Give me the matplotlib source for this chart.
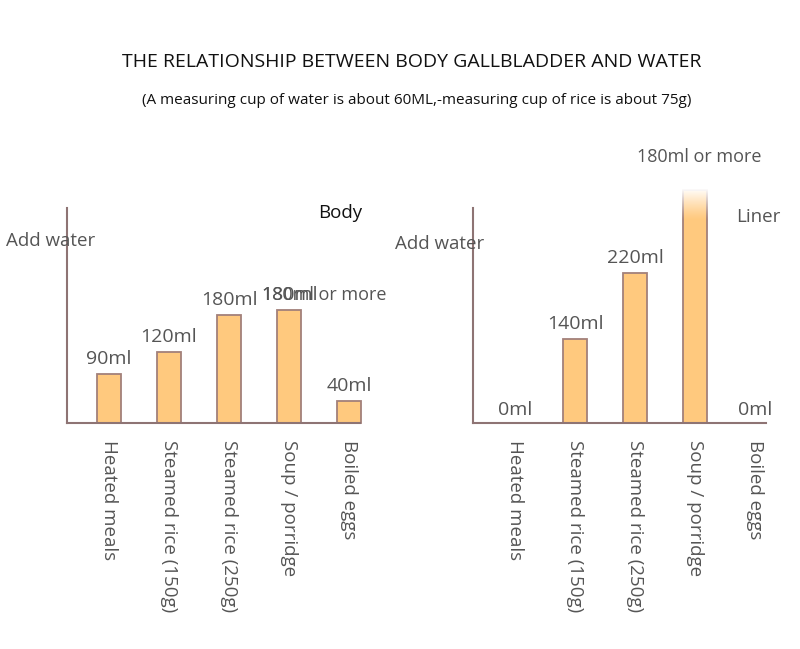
import numpy as np
import matplotlib
matplotlib.use("Agg")
import matplotlib.pyplot as plt
from matplotlib import font_manager

# ---------------- data ----------------
categories = ["Heated meals", "Steamed rice (150g)", "Steamed rice (250g)",
              "Soup / porridge", "Boiled eggs"]
body_heights = [82, 118, 180, 188, 37]          # drawn bar heights (ml scale)
body_labels = ["90ml", "120ml", "180ml", "180ml", "40ml"]
liner_heights = [0, 140, 250, 388, 0]
liner_labels = ["0ml", "140ml", "220ml", "180ml or more", "0ml"]

title = "THE RELATIONSHIP BETWEEN BODY GALLBLADDER AND WATER"
subtitle = "(A measuring cup of water is about 60ML,-measuring cup of rice is about 75g)"

# ---------------- style ----------------
W, H = 800, 649
BAR_FILL = "#FFC97E"
BAR_EDGE = "#A3807A"
AXIS_C = "#8E7474"
TXT = "#555555"
names = {f.name for f in font_manager.fontManager.ttflist}
NARROW = "Liberation Sans Narrow" if "Liberation Sans Narrow" in names else "Open Sans"
FONT = "Open Sans"
title_size = 15.5 if NARROW != "Open Sans" else 14
sub_size = 11.5 if NARROW != "Open Sans" else 11

fig = plt.figure(figsize=(W / 100, H / 100), dpi=100)

PX_PER_ML = 0.6
BASE_Y = 423
TOP_Y = 208
ylim_top = (BASE_Y - TOP_Y) / PX_PER_ML


def make_axes(x_axis_px, x0_px):
    # x=0 at x0_px, spacing 60px per category
    left_data = (x_axis_px - x0_px) / 60.0
    right_px = x_axis_px + 320
    right_data = (right_px - x0_px) / 60.0
    ax = fig.add_axes([x_axis_px / W, 1 - BASE_Y / H,
                       (right_px - x_axis_px) / W, (BASE_Y - TOP_Y) / H])
    ax.set_xlim(left_data, right_data)
    ax.set_ylim(0, ylim_top)
    for s in ["top", "right"]:
        ax.spines[s].set_visible(False)
    for s in ["left", "bottom"]:
        ax.spines[s].set_color(AXIS_C)
        ax.spines[s].set_linewidth(1.5)
    ax.spines["bottom"].set_bounds(left_data, 4.18)
    ax.set_yticks([])
    ax.set_xticks(range(len(categories)))
    ax.set_xticklabels(categories, rotation=270, fontsize=13.5, color=TXT,
                       family=FONT)
    ax.tick_params(axis="x", length=0, pad=12)
    ax.patch.set_alpha(0)
    return ax


x = np.arange(len(categories))

# ---------------- left: Body ----------------
axL = make_axes(67, 109)
axL.bar(x, body_heights, width=0.4, color=BAR_FILL, edgecolor=BAR_EDGE,
        linewidth=1.3, clip_on=False, zorder=2)
for i, (h, lab) in enumerate(zip(body_heights, body_labels)):
    axL.annotate(lab, (i, h), xytext=(0, 7), textcoords="offset points",
                 ha="center", va="baseline", fontsize=14, color=TXT,
                 family=FONT, annotation_clip=False)
axL.annotate("180ml or more", (3, body_heights[3]), xytext=(-19.5, 7),
             textcoords="offset points", ha="left", va="baseline",
             fontsize=13, color=TXT, family=FONT, annotation_clip=False)
fig.text(6 / W, 1 - 241 / H, "Add water", ha="left", va="center",
         fontsize=13.5, color=TXT, family=FONT)
fig.text(340 / W, 1 - 213 / H, "Body", ha="center", va="center",
         fontsize=13.5, color="#111111", family=FONT)

# ---------------- right: Liner ----------------
axR = make_axes(473, 515)
bars = axR.bar(x, liner_heights, width=0.4, color=BAR_FILL, edgecolor=BAR_EDGE,
               linewidth=1.3, clip_on=False, zorder=2)
# fade the top of the tallest bar to white
i_top = int(np.argmax(liner_heights))
h_top = liner_heights[i_top]
fade_ml = 50
grad = np.zeros((64, 1, 4))
grad[..., :3] = 1.0
grad[:, 0, 3] = np.linspace(1.0, 0.0, 64) ** 1.2
axR.imshow(grad, extent=(i_top - 0.26, i_top + 0.26, h_top - fade_ml, h_top + 2),
           aspect="auto", origin="upper", zorder=3, clip_on=False,
           interpolation="bilinear")
axR.set_xlim(axR.get_xlim())
axR.set_ylim(0, ylim_top)
for i, (h, lab) in enumerate(zip(liner_heights, liner_labels)):
    if i == i_top:
        axR.annotate(lab, (i + 0.07, h), xytext=(0, 20), textcoords="offset points",
                     ha="center", va="baseline", fontsize=13, color=TXT,
                     family=FONT, annotation_clip=False)
    else:
        axR.annotate(lab, (i, h), xytext=(0, 6 if h == 0 else 7),
                     textcoords="offset points", ha="center", va="baseline",
                     fontsize=14, color=TXT, family=FONT, annotation_clip=False)
fig.text(395 / W, 1 - 244 / H, "Add water", ha="left", va="center",
         fontsize=13.5, color=TXT, family=FONT)
fig.text(758 / W, 1 - 217 / H, "Liner", ha="center", va="center",
         fontsize=13.5, color=TXT, family=FONT)

# ---------------- titles ----------------
fig.text(412 / W, 1 - 62 / H, title, ha="center", va="center",
         fontsize=title_size, color="#111111", family=NARROW)
fig.text(417 / W, 1 - 100 / H, subtitle, ha="center", va="center",
         fontsize=sub_size, color="#111111", family=NARROW)

fig.savefig("out.png", dpi=100, facecolor="white")
